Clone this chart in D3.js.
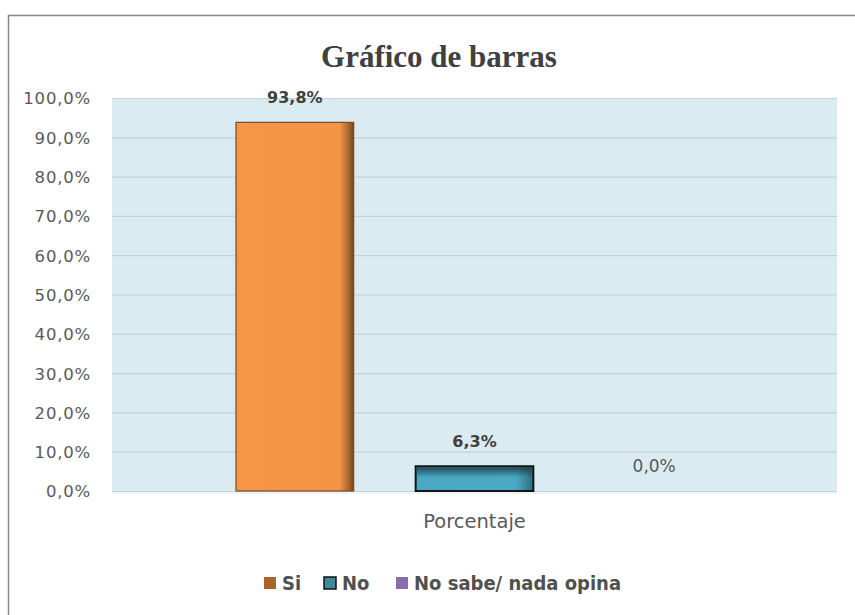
<!DOCTYPE html>
<html>
<head>
<meta charset="utf-8">
<script src="https://cdn.jsdelivr.net/npm/d3@7"></script>
<style>
  html, body { margin: 0; padding: 0; background: #ffffff; }
  svg { display: block; }
</style>
</head>
<body>
<div id="chart"></div>
<script>

// chart data
var chartTitle = 'Gráfico de barras';
var categoryName = 'Porcentaje';
var seriesNames = ['Si', 'No', 'No sabe/ nada opina'];
var seriesValues = [0.938, 0.063, 0.0];

var width = 855,
    height = 615;

var plot = { left: 112, right: 837, top: 98, bottom: 491 };

var es = d3.formatLocale({ decimal: ',', thousands: '.', grouping: [3], currency: ['', ' €'] });
var pct = es.format('.1%');

var svg = d3.select('#chart').append('svg')
    .attr('width', width)
    .attr('height', height);

var defs = svg.append('defs');

// orange bar: dark shaded right edge
var gSi = defs.append('linearGradient').attr('id', 'gradSi')
    .attr('x1', 0).attr('x2', 1).attr('y1', 0).attr('y2', 0);
gSi.append('stop').attr('offset', '0%').attr('stop-color', '#f4914a');
gSi.append('stop').attr('offset', '4%').attr('stop-color', '#f79646');
gSi.append('stop').attr('offset', '88%').attr('stop-color', '#f39445');
gSi.append('stop').attr('offset', '96%').attr('stop-color', '#a8652f');
gSi.append('stop').attr('offset', '100%').attr('stop-color', '#6e4522');

var gNo = defs.append('linearGradient').attr('id', 'gradNo')
    .attr('x1', 0).attr('x2', 1).attr('y1', 0).attr('y2', 0);
gNo.append('stop').attr('offset', '0%').attr('stop-color', '#4aa9c2');
gNo.append('stop').attr('offset', '85%').attr('stop-color', '#4aaac4');
gNo.append('stop').attr('offset', '100%').attr('stop-color', '#2e6b7c');

var gNoTop = defs.append('linearGradient').attr('id', 'gradNoTop')
    .attr('x1', 0).attr('x2', 0).attr('y1', 0).attr('y2', 1);
gNoTop.append('stop').attr('offset', '0%').attr('stop-color', '#1d3f4a').attr('stop-opacity', 0.9);
gNoTop.append('stop').attr('offset', '45%').attr('stop-color', '#1d3f4a').attr('stop-opacity', 0);

var gPu = defs.append('linearGradient').attr('id', 'gradPu')
    .attr('x1', 0).attr('x2', 1).attr('y1', 0).attr('y2', 0);
gPu.append('stop').attr('offset', '0%').attr('stop-color', '#8064a2');
gPu.append('stop').attr('offset', '100%').attr('stop-color', '#6b5088');

var fills = ['url(#gradSi)', 'url(#gradNo)', 'url(#gradPu)'];
var strokes = ['#7a4b24', '#151515', '#5a4575'];

// outer chart border (only top and left are inside the window)
svg.append('path')
    .attr('d', 'M8.5,' + (height + 2) + 'V15.5H' + (width + 2))
    .attr('fill', 'none')
    .attr('stroke', '#868686')
    .attr('stroke-width', 1.5);

// scales
var y = d3.scaleLinear().domain([0, 1]).range([plot.bottom, plot.top]);

var x0 = d3.scaleBand()
    .domain([categoryName])
    .range([plot.left, plot.right]);

var x1 = d3.scaleBand()
    .domain(seriesNames)
    .range([0, x0.bandwidth()])
    .paddingInner(0.345)
    .paddingOuter(0.69);

// plot area
svg.append('rect')
    .attr('x', plot.left)
    .attr('y', plot.top)
    .attr('width', plot.right - plot.left)
    .attr('height', plot.bottom - plot.top)
    .attr('fill', '#daebf2');

svg.append('line')
    .attr('x1', plot.left).attr('x2', plot.right + 1)
    .attr('y1', plot.bottom + 2).attr('y2', plot.bottom + 2)
    .attr('stroke', '#eef5f8').attr('stroke-width', 2);

// gridlines
svg.append('g')
    .attr('class', 'grid')
    .attr('transform', 'translate(' + plot.left + ',0)')
    .call(d3.axisLeft(y).ticks(10).tickSize(-(plot.right - plot.left)).tickFormat(''))
    .call(function(g) { g.select('.domain').remove(); })
    .call(function(g) {
        g.selectAll('line')
            .attr('stroke', '#c3d3da')
            .attr('stroke-width', 1.2);
    });

// y axis labels
svg.append('g')
    .attr('class', 'yaxis')
    .attr('transform', 'translate(' + plot.left + ',0)')
    .call(d3.axisLeft(y).ticks(10).tickSize(0).tickPadding(21).tickFormat(pct))
    .call(function(g) { g.select('.domain').remove(); })
    .call(function(g) {
        g.selectAll('text')
            .attr('fill', '#5a5a5a')
            .attr('font-family', 'DejaVu Sans, Verdana, sans-serif')
            .attr('font-size', 16.5)
            .attr('letter-spacing', 0.8)
            .attr('dy', '0.36em');
    });

// bars
var barData = seriesNames.map(function(s, i) {
    return { name: s, value: seriesValues[i], fill: fills[i], stroke: strokes[i] };
});

var group = svg.append('g')
    .attr('transform', 'translate(' + x0(categoryName) + ',0)');

group.selectAll('.bar')
    .data(barData.filter(function(d) { return d.value > 0; }))
    .enter()
        .append('rect')
        .attr('class', 'bar')
        .attr('x', function(d) { return x1(d.name); })
        .attr('y', function(d) { return y(d.value); })
        .attr('width', x1.bandwidth())
        .attr('height', function(d) { return y(0) - y(d.value); })
        .attr('fill', function(d) { return d.fill; })
        .attr('stroke', function(d) { return d.stroke; })
        .attr('stroke-width', function(d) { return d.name == 'No' ? 2 : 1.2; });

// inner top shade on the blue bar
group.selectAll('.shade')
    .data(barData.filter(function(d) { return d.name == 'No'; }))
    .enter()
        .append('rect')
        .attr('class', 'shade')
        .attr('x', function(d) { return x1(d.name) + 1; })
        .attr('y', function(d) { return y(d.value) + 1; })
        .attr('width', x1.bandwidth() - 2)
        .attr('height', function(d) { return y(0) - y(d.value) - 2; })
        .attr('fill', 'url(#gradNoTop)');

// data labels
group.selectAll('.label')
    .data(barData)
    .enter()
        .append('text')
        .attr('class', 'label')
        .attr('x', function(d) { return x1(d.name) + x1.bandwidth() / 2; })
        .attr('y', function(d) { return y(d.value) - 19; })
        .attr('text-anchor', 'middle')
        .attr('font-family', 'DejaVu Sans, Verdana, sans-serif')
        .attr('font-size', function(d) { return d.value > 0 ? 16 : 17; })
        .attr('font-weight', function(d) { return d.value > 0 ? 'bold' : 'normal'; })
        .attr('fill', function(d) { return d.value > 0 ? '#404040' : '#595959'; })
        .text(function(d) { return pct(d.value); });

// category label
svg.append('text')
    .attr('x', x0(categoryName) + x0.bandwidth() / 2)
    .attr('y', 528)
    .attr('text-anchor', 'middle')
    .attr('font-family', 'DejaVu Sans, Verdana, sans-serif')
    .attr('font-size', 19.5)
    .attr('fill', '#595959')
    .text(categoryName);

// title
svg.append('text')
    .attr('x', 439)
    .attr('y', 67)
    .attr('text-anchor', 'middle')
    .attr('font-family', 'Liberation Serif, Times New Roman, serif')
    .attr('font-weight', 'bold')
    .attr('font-size', 31)
    .attr('fill', '#404040')
    .text(chartTitle);

// legend
var legendX = [264, 324, 396];
var legend = svg.append('g').attr('class', 'legend');

var item = legend.selectAll('.item')
    .data(barData)
    .enter()
        .append('g')
        .attr('class', 'item')
        .attr('transform', function(d, i) { return 'translate(' + legendX[i] + ',577)'; });

item.append('rect')
    .attr('width', 12)
    .attr('height', 12)
    .attr('fill', function(d, i) { return ['#a9642c', '#3c8a9c', '#8a6cab'][i]; })
    .attr('stroke', function(d, i) { return ['none', '#111111', 'none'][i]; })
    .attr('stroke-width', 1.5);

item.append('text')
    .attr('x', 18)
    .attr('y', 12.5)
    .attr('font-family', 'Liberation Sans Narrow, DejaVu Sans Condensed, Arial Narrow, sans-serif')
    .attr('font-weight', 'bold')
    .attr('font-size', 20)
    .attr('fill', '#505050')
    .text(function(d) { return d.name; });

</script>
</body>
</html>
